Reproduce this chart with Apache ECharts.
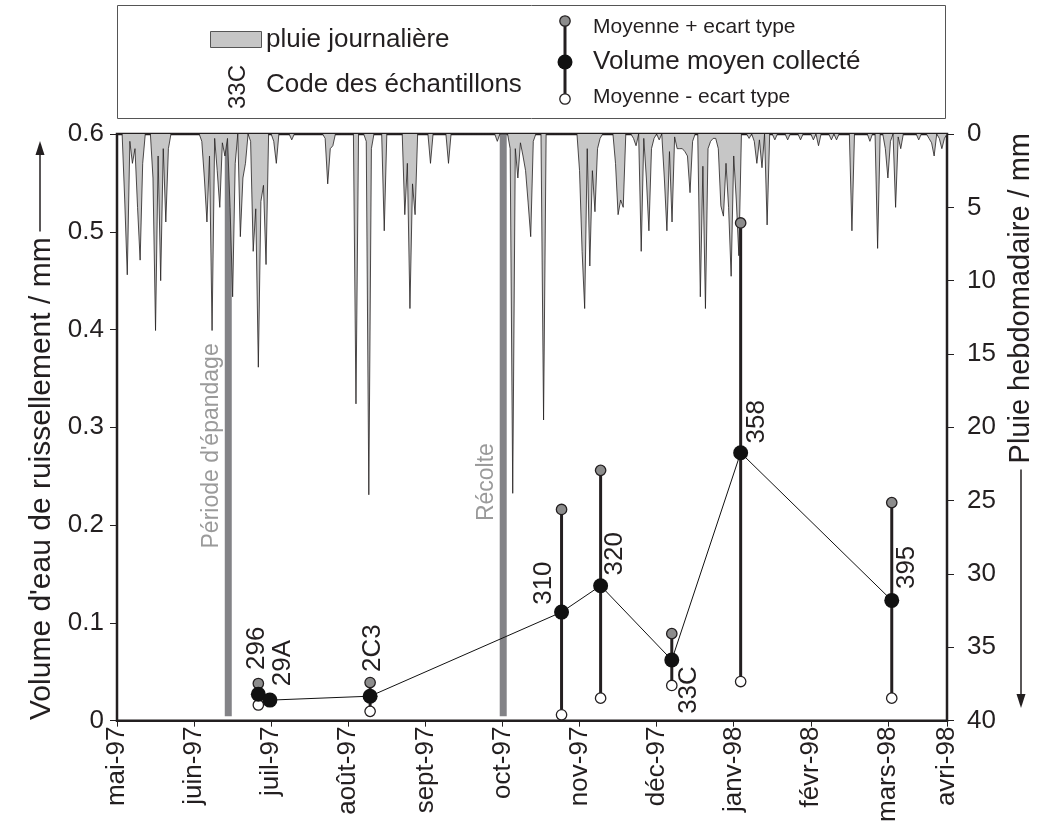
<!DOCTYPE html>
<html><head><meta charset="utf-8">
<script src="https://cdn.jsdelivr.net/npm/echarts@6/dist/echarts.min.js"></script>
<style>html,body{margin:0;padding:0;background:#fff}#c{width:1039px;height:825px}</style>
</head><body><div id="c"></div>
<script>
// ---------- data ----------
const monthLabels = ['mai-97','juin-97','juil-97','août-97','sept-97','oct-97','nov-97','déc-97','janv-98','févr-98','mars-98','avri-98'];
const leftTickLabels = ['0','0.1','0.2','0.3','0.4','0.5','0.6'];
const rightTickLabels = ['0','5','10','15','20','25','30','35','40'];

// daily rain (mm), day 0 = start of axis (mai-97)
const rainDaily = [
 0,0,0,4.5,9.6,0.5,2.0,1.0,5.0,8.6,
 2.0,0,0,0,3.0,13.4,1.5,10.0,1.0,6.0,
 1.0,0,0,0,0,0,0,0,0,0,
 0,0,0,0.5,3.0,6.0,1.5,13.4,0.3,2.5,
 5.0,0.6,1.5,0.3,5.0,11.1,2.0,0,7.0,3.0,
 2.0,0,0.5,8.0,5.1,15.9,4.6,3.5,8.9,0,
 0,0.5,2.0,0,0,0,0,0,0.4,0,
 0,0,0,0,0,0,0,0,0,0,
 0,0.3,3.4,1.0,0.8,0,0,0,0,0,
 0,0,0,18.4,0,0,0,0.5,24.6,1.0,
 0,0,0,0,6.6,0,0,0,0,0,
 0,0,5.5,2.0,11.9,3.4,5.5,0,0,0,
 0,0,2.0,0,0,0,0,0,0,2.0,
 0,0,0,0,0,0,0,0,0,0,
 0,0,0,0,0,0,0,0,0.5,0,
 0,0,0,1.0,24.5,1.0,3.0,0.6,1.5,2.5,
 4.7,7.0,0.5,0,0,0,19.5,0,0,0,
 0,0,0,0,0,0,0,0,0,0,
 2.5,8.0,11.9,1.0,9.0,2.5,5.3,1.0,0.3,0,
 0,0,0,0,2.0,5.5,4.5,5.0,0,0,
 0,0.3,0.8,0,8.0,0.3,3.0,6.6,1.0,0.3,
 0,0.4,0,3.0,6.6,1.2,6.0,0.2,1.0,1.0,
 1.0,1.2,1.5,4.0,0.5,0,0,11.1,2.2,11.9,
 1.0,0.5,0.3,0.3,1.0,4.9,5.6,2.0,5.0,9.7,
 1.5,4.5,8.3,0,0,0,0.3,0,0.5,2.0,
 0.4,2.3,0,6.2,0,0,0.4,0,0,0,
 0,0.4,0,0,0,0,0.4,0,0,0,
 0,0.4,0,0.8,0,0,0,0,0.4,0,
 0.4,0,0,0,0,0,6.6,0,0,0,
 0,0,0,0.5,0,0,7.8,0,0,1.0,
 3.0,0.5,0,5.0,0.2,1.0,0,0,0,0,
 0,0,0.4,0,0,0,0.3,0.6,1.5,0,
 0.3,1.0,0.3,0
];

const sampleCodes  = ['296','29A','2C3','310','320','33C','358','395'];
const sampleDay    = [55.0, 59.5, 98.5, 173.0, 188.2, 215.9, 242.7, 301.5];
const meanVolume   = [0.027, 0.021, 0.025, 0.111, 0.138, 0.062, 0.274, 0.123];
const meanPlusSd   = [0.038, null, 0.039, 0.216, 0.256, 0.089, 0.509, 0.223];
const meanMinusSd  = [0.016, null, 0.0095, 0.006, 0.023, 0.036, 0.040, 0.023];

const eventNames = ["Période d'épandage", 'Récolte'];
const eventDay   = [43.3, 150.3];

const leftTitle = "Volume d'eau de ruissellement / mm";
const rightTitle = 'Pluie hebdomadaire / mm';

// ---------- styling ----------
const INK = '#231f20';
const FONT = "'Liberation Sans', Arial, sans-serif";
const labelShift = [[-2,-46],[13,-37],[3,-48],[-18,-29],[14,-32],[17,30],[16,-31],[15,-33]];
const eventLabelLevel = [0.281, 0.244];
const eventBarBottom = 0.0044;

function textWidth(txt, size){
  const c = document.createElement('canvas').getContext('2d');
  c.font = size + 'px ' + FONT;
  return c.measureText(txt).width;
}
const leftTitleSize = 30, rightTitleSize = 29;
const leftTitleBottom = 720;
const leftTitleTop = leftTitleBottom - textWidth(leftTitle, leftTitleSize);
const rightTitleTop = 133;
const rightTitleBottom = rightTitleTop + textWidth(rightTitle, rightTitleSize);

const chart = echarts.init(document.getElementById('c'), null, {renderer:'canvas'});

const option = {
  animation: false,
  backgroundColor: '#fff',
  grid: {left:117, right:92, top:134, bottom:104, show:true, borderColor:INK, borderWidth:2.5, backgroundColor:'transparent'},
  xAxis: {
    type:'value', min:0, max:323, interval:30,
    axisLine:{show:false},
    axisTick:{show:true, length:6, lineStyle:{color:INK, width:1}},
    splitLine:{show:false},
    axisLabel:{rotate:90, margin:6, fontSize:26, fontFamily:FONT, color:INK, showMaxLabel:true, showMinLabel:true,
      formatter: v => monthLabels[Math.min(monthLabels.length-1, Math.round(v/30))]}
  },
  yAxis: [
    {type:'value', min:0, max:0.6, interval:0.1, position:'left',
     axisLine:{show:false}, splitLine:{show:false},
     axisTick:{show:true, length:7, lineStyle:{color:INK, width:1}},
     axisLabel:{margin:13, fontSize:26, fontFamily:FONT, color:INK,
       formatter: v => leftTickLabels[Math.round(v*10)]}},
    {type:'value', min:0, max:40, interval:5, position:'right', inverse:true,
     axisLine:{show:false}, splitLine:{show:false},
     axisTick:{show:true, length:7, lineStyle:{color:INK, width:1}},
     axisLabel:{margin:20, fontSize:26, fontFamily:FONT, color:INK,
       formatter: v => rightTickLabels[Math.round(v/5)]}}
  ],
  series: [
    { // event bars + labels
      type:'custom', xAxisIndex:0, yAxisIndex:0, z:1, silent:true,
      data: eventDay.map((d,i)=>[d, i]),
      renderItem(params, api){
        const d = api.value(0), i = api.value(1);
        const top = api.coord([d, 0.6]), bot = api.coord([d, eventBarBottom]);
        const lab = api.coord([d, eventLabelLevel[i]]);
        return {type:'group', children:[
          {type:'rect', shape:{x:top[0]-3.5, y:top[1], width:7, height:bot[1]-top[1]}, style:{fill:'#838387'}},
          {type:'text', x:lab[0]-16.5, y:lab[1], rotation:Math.PI/2,
           style:{text:eventNames[i], fontSize:23, fontFamily:FONT, fill:'#9a9a9a', align:'center', verticalAlign:'middle'}}
        ]};
      }
    },
    { // daily rain
      type:'line', xAxisIndex:0, yAxisIndex:1, z:3, silent:true,
      data: rainDaily.map((v,i)=>[i, v]),
      showSymbol:false, symbol:'none',
      lineStyle:{color:INK, width:0.8},
      areaStyle:{color:'#c6c6c6', opacity:1}
    },
    { // error bars
      type:'custom', xAxisIndex:0, yAxisIndex:0, z:5, silent:true,
      data: sampleDay.map((d,i)=>[d, meanVolume[i], i]),
      renderItem(params, api){
        const d = api.value(0), i = api.value(2);
        const hi = meanPlusSd[i], lo = meanMinusSd[i];
        if (hi == null || lo == null) return {type:'group', children:[]};
        const p1 = api.coord([d, hi]), p0 = api.coord([d, lo]);
        return {type:'group', children:[
          {type:'line', shape:{x1:p1[0], y1:p1[1], x2:p0[0], y2:p0[1]}, style:{stroke:INK, lineWidth:3}},
          {type:'circle', shape:{cx:p1[0], cy:p1[1], r:5.2}, style:{fill:'#8c8c8c', stroke:INK, lineWidth:1.3}},
          {type:'circle', shape:{cx:p0[0], cy:p0[1], r:5.2}, style:{fill:'#ffffff', stroke:INK, lineWidth:1.3}}
        ]};
      }
    },
    { // mean volume
      type:'line', xAxisIndex:0, yAxisIndex:0, z:6, silent:true,
      data: sampleDay.map((d,i)=>[d, meanVolume[i]]),
      symbol:'circle', symbolSize:15, showSymbol:true,
      itemStyle:{color:'#111', borderColor:'#111', borderWidth:0},
      lineStyle:{color:'#111', width:1}
    },
    { // sample code labels
      type:'custom', xAxisIndex:0, yAxisIndex:0, z:7, silent:true,
      data: sampleDay.map((d,i)=>[d, meanVolume[i], i]),
      renderItem(params, api){
        const d = api.value(0), v = api.value(1), i = api.value(2);
        const p = api.coord([d, v]);
        return {type:'text', x:p[0]+labelShift[i][0], y:p[1]+labelShift[i][1], rotation:Math.PI/2,
          style:{text:sampleCodes[i], fontSize:26, fontFamily:FONT, fill:INK, align:'center', verticalAlign:'middle'}};
      }
    }
  ],
  graphic: [
    // legend box
    {type:'rect', shape:{x:117.5, y:5.5, width:828, height:113}, style:{fill:'#fff', stroke:'#555', lineWidth:1}},
    {type:'rect', shape:{x:210.5, y:31.5, width:51, height:16}, style:{fill:'#c6c6c6', stroke:'#555', lineWidth:1}},
    {type:'text', x:266, y:40, style:{text:'pluie journalière', fontSize:26, fontFamily:FONT, fill:INK, verticalAlign:'middle'}},
    {type:'text', x:238, y:87, rotation:Math.PI/2, style:{text:'33C', fontSize:24, fontFamily:FONT, fill:INK, align:'center', verticalAlign:'middle'}},
    {type:'text', x:266, y:85, style:{text:'Code des échantillons', fontSize:26, fontFamily:FONT, fill:INK, verticalAlign:'middle'}},
    {type:'line', shape:{x1:565, y1:21, x2:565, y2:99}, style:{stroke:INK, lineWidth:3}},
    {type:'circle', shape:{cx:565, cy:21, r:5.2}, style:{fill:'#8c8c8c', stroke:INK, lineWidth:1.3}},
    {type:'circle', shape:{cx:565, cy:62, r:7.5}, style:{fill:'#111', stroke:'#111', lineWidth:0}},
    {type:'circle', shape:{cx:565, cy:99, r:5.2}, style:{fill:'#fff', stroke:INK, lineWidth:1.3}},
    {type:'text', x:593, y:27, style:{text:'Moyenne + ecart type', fontSize:21, fontFamily:FONT, fill:INK, verticalAlign:'middle'}},
    {type:'text', x:593, y:62, style:{text:'Volume moyen collecté', fontSize:26, fontFamily:FONT, fill:INK, verticalAlign:'middle'}},
    {type:'text', x:593, y:97, style:{text:'Moyenne - ecart type', fontSize:21, fontFamily:FONT, fill:INK, verticalAlign:'middle'}},
    // left axis title + arrow
    {type:'text', x:42, y:leftTitleBottom, rotation:Math.PI/2, style:{text:leftTitle, fontSize:leftTitleSize, fontFamily:FONT, fill:INK, align:'left', verticalAlign:'middle'}},
    {type:'line', shape:{x1:40, y1:leftTitleTop-6, x2:40, y2:152}, style:{stroke:INK, lineWidth:1.5}},
    {type:'polygon', shape:{points:[[40,141],[35.5,155],[44.5,155]]}, style:{fill:INK}},
    // right axis title + arrow
    {type:'text', x:1021, y:rightTitleTop, rotation:Math.PI/2, style:{text:rightTitle, fontSize:rightTitleSize, fontFamily:FONT, fill:INK, align:'right', verticalAlign:'middle'}},
    {type:'line', shape:{x1:1021, y1:rightTitleBottom+6, x2:1021, y2:697}, style:{stroke:INK, lineWidth:1.5}},
    {type:'polygon', shape:{points:[[1021,708],[1016.5,694],[1025.5,694]]}, style:{fill:INK}}
  ]
};
chart.setOption(option);
</script>
</body></html>
